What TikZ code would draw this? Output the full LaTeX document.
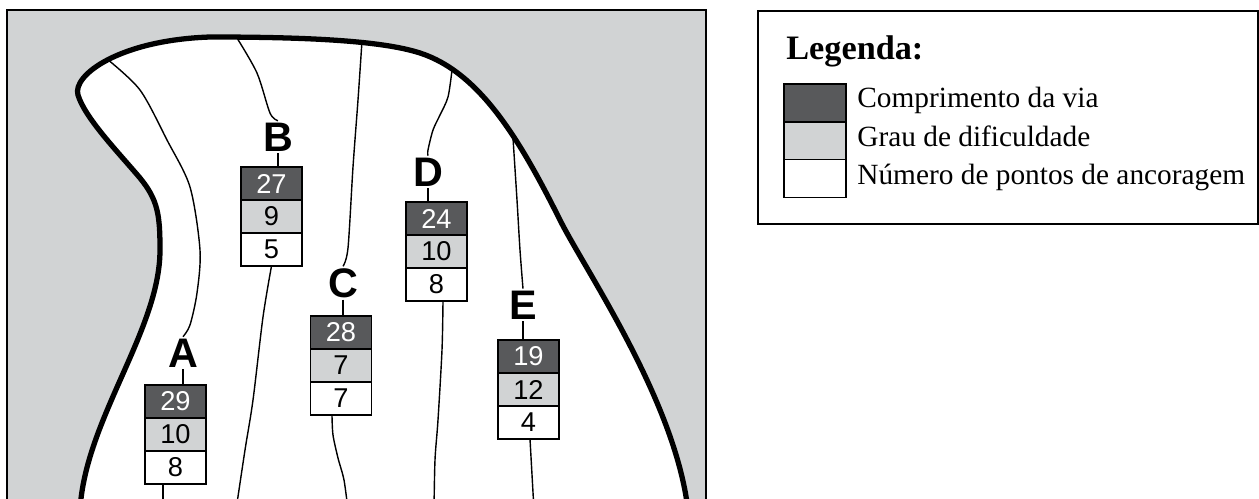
\documentclass[tikz,border=0pt]{standalone}
\usepackage{fontspec}
\setmainfont{Liberation Serif}
\newfontfamily\helv{Liberation Sans}
\definecolor{dk}{HTML}{58595B}
\definecolor{lt}{HTML}{D1D3D4}
\newcommand\rbox[6]{%
  \node[topcell] (#1a) at (#2,#3+16.5) {#4};
  \node[midcell] (#1b) at (#2,#3+49.5) {#5};
  \node[botcell] (#1c) at (#2,#3+82.5) {#6};}
\newcommand\outlinepath{(80,510) .. controls (85,420) and (160,330) .. (160,250)
  .. controls (160,215) and (158,200) .. (140,178)
  .. controls (118,152) and (85,118) .. (78,95)
  .. controls (72,75) and (120,40) .. (210,37)
  .. controls (300,37) and (380,40) .. (420,53)
  .. controls (480,72.5) and (520,140) .. (560,220)
  .. controls (585,270) and (675,400) .. (688,510)}
\begin{document}
\begin{tikzpicture}[x=0.02cm,y=-0.02cm,
  cell/.style={draw,line width=0.7pt,minimum width=1.22cm,minimum height=0.66cm,inner sep=0pt,outer sep=0pt,font=\helv\fontsize{15.5}{15.5}\selectfont},
  topcell/.style={cell,fill=dk,text=white},
  midcell/.style={cell,fill=lt},
  botcell/.style={cell,fill=white},
  letter/.style={font=\helv\bfseries\fontsize{23.5}{23.5}\selectfont,inner sep=1pt},
  route/.style={line width=0.8pt},
  swatch/.style={draw,line width=0.8pt,minimum width=1.24cm,minimum height=0.754cm,inner sep=0pt,outer sep=0pt},
  legtext/.style={anchor=base west,inner sep=0pt,font=\fontsize{16.7}{16.7}\selectfont}]
\useasboundingbox (0,0) rectangle (1259,498);
\begin{scope}
\clip (0,0) rectangle (1259,498);
% frame
\fill[lt] (7,10) rectangle (706,510);
\draw[line width=1.1pt] (7,510) -- (7,10) -- (706,10) -- (706,510);
% white region
\fill[white] \outlinepath -- cycle;
% boxes
\rbox{A}{175.5}{385}{29}{10}{8}
\rbox{B}{271.5}{167}{27}{9}{5}
\rbox{C}{341}{316}{28}{7}{7}
\rbox{D}{436.5}{202}{24}{10}{8}
\rbox{E}{528.5}{340}{19}{12}{4}
% letters
\node[letter] (A) at (183,353) {A};
\node[letter] (B) at (278,137) {B};
\node[letter] (C) at (343,283) {C};
\node[letter] (D) at (428,172) {D};
\node[letter] (E) at (523,305) {E};
% route ends
\coordinate (a0) at (107,59);
\coordinate (b0) at (237,38);
\coordinate (c0) at (362,41);
\coordinate (d0) at (452,70);
\coordinate (e0) at (513,138);
\coordinate (a5) at (163,510);
\coordinate (b5) at (236,510);
\coordinate (c5) at (348,510);
\coordinate (d5) at (434,510);
\coordinate (e5) at (534,510);
% routes
\draw[route] plot[smooth] coordinates {(a0) (140,90) (167,140) (190,187) (200,250) (197,293) (190,325) (A.north)};
\draw[route] (A.south) -- (A.south |- Aa.north);
\draw[route] (Ac.south -| a5) -- (a5);
\draw[route] plot[smooth] coordinates {(b0) (257,73) (270,113) (B.north)};
\draw[route] (B.south) -- (B.south |- Ba.north);
\draw[route] plot[smooth] coordinates {(Bc.south) (263,317) (253,400) (245,450) (b5)};
\draw[route] plot[smooth] coordinates {(c0) (358,100) (353,167) (348,248) (C.north)};
\draw[route] (C.south) -- (C.south |- Ca.north);
\draw[route] plot[smooth] coordinates {(Cc.south -| 332,0) (333,435) (338,458) (344,480) (c5)};
\draw[route] plot[smooth] coordinates {(d0) (448,97) (440,115) (433,130) (428,150) (D.north)};
\draw[route] (D.south) -- (D.south |- Da.north);
\draw[route] plot[smooth] coordinates {(Dc.south -| 443,0) (442,350) (438,420) (435,460) (d5)};
\draw[route] plot[smooth] coordinates {(e0) (517,200) (520,250) (E.north)};
\draw[route] (E.south) -- (E.south |- Ea.north);
\draw[route] (Ec.south -| 530,0) -- (e5);
% outline
\draw[line width=3pt] \outlinepath;
\end{scope}
% legend
\draw[line width=0.8pt] (758,11) rectangle (1258,224);
\node[legtext,font=\bfseries\fontsize{19.5}{19.5}\selectfont] (Lt) at (786,59) {Legenda:};
\node[swatch,fill=dk] (La) at (815,103) {};
\node[swatch,fill=lt] (Lb) at (815,140.7) {};
\node[swatch,fill=white] (Lc) at (815,178.4) {};
\node[legtext] (Ta) at (857,107) {Comprimento da via};
\node[legtext] (Tb) at (857,146) {Grau de dificuldade};
\node[legtext] (Tc) at (857,184) {Número de pontos de ancoragem};
\end{tikzpicture}
\end{document}
